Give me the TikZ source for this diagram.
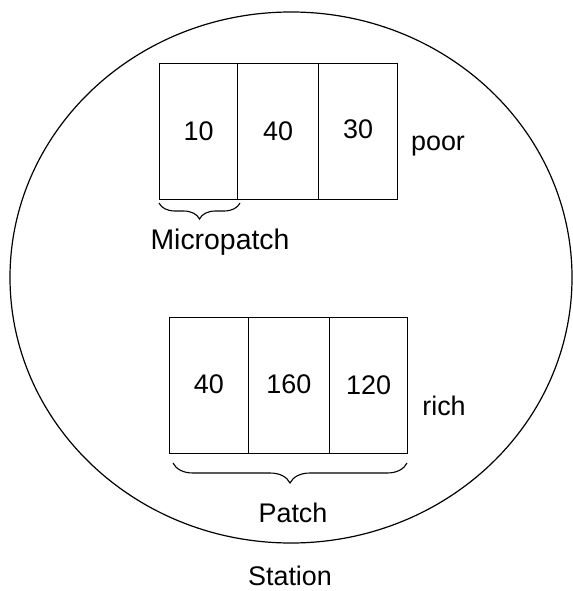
\documentclass[tikz,border=0pt]{standalone}
\usepackage{fontspec}
\setmainfont{Liberation Sans}
\usetikzlibrary{decorations.pathreplacing,shapes.geometric}
\begin{document}
\begin{tikzpicture}[x=1bp,y=-1bp,
  cell/.style={draw,line width=1.2bp,minimum height=136bp,inner sep=0pt,anchor=north west,font=\fontsize{27}{30}\selectfont},
  lbl/.style={inner sep=0pt,font=\fontsize{27}{30}\selectfont},
  bracestyle/.style={decorate,line width=1.1bp,decoration={brace,amplitude=#1}}]
\useasboundingbox (0,0) rectangle (573,591);
\node[draw,line width=1.2bp,ellipse,minimum width=562bp,minimum height=531bp,inner sep=0pt] (station) at (291,277.5) {};
% top row
\node[cell,minimum width=78bp] (p1) at (159,63) {10};
\node[cell,minimum width=81bp] (p2) at (237,63) {40};
\node[cell,minimum width=79bp] (p3) at (318,63) {\raisebox{4bp}{30}};
\node[lbl] (poor) at (438,146) {poor};
\coordinate (mb1) at (240,203);
\coordinate (mb2) at (159,203);
\draw[bracestyle=16bp] (mb1) -- (mb2);
\node[lbl,font=\fontsize{28.5}{30}\selectfont] (micro) at (220,242) {Micropatch};
% bottom row
\node[cell,minimum width=78.5bp] (r1) at (169,317) {\raisebox{2bp}{40}};
\node[cell,minimum width=81.5bp] (r2) at (247.5,317) {\raisebox{3bp}{160}};
\node[cell,minimum width=78bp] (r3) at (329,317) {\raisebox{1bp}{120}};
\node[lbl] (rich) at (444,406) {rich};
\coordinate (pb1) at (407,463);
\coordinate (pb2) at (173,463);
\draw[bracestyle=20bp] (pb1) -- (pb2);
\node[lbl] (patch) at (293,513) {Patch};
\node[lbl] (stlabel) at (290,576) {Station};
\end{tikzpicture}
\end{document}
